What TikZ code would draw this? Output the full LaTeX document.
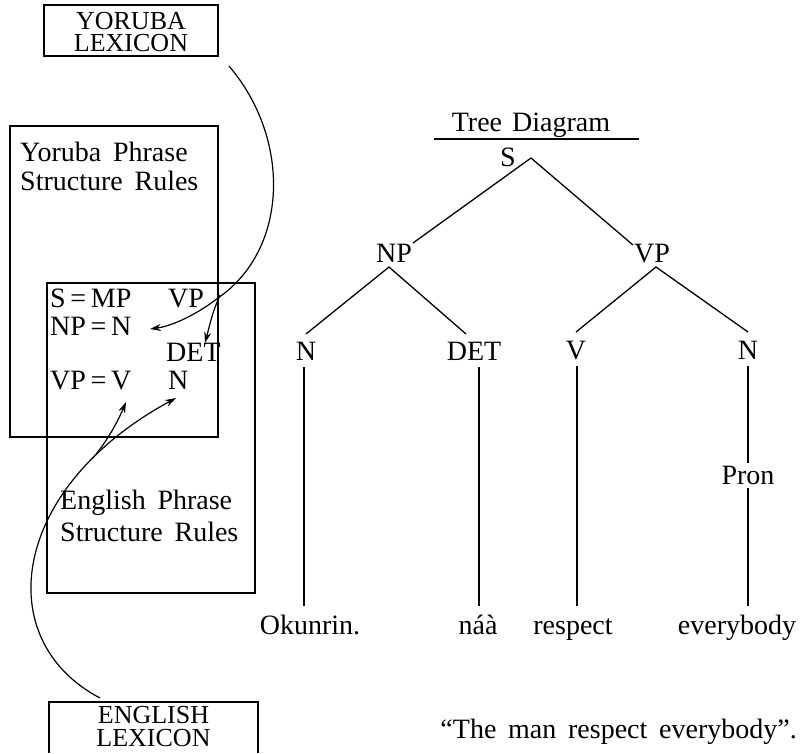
\documentclass[tikz,border=0pt]{standalone}
\usepackage{fontspec}
\setmainfont{Liberation Serif}
\usetikzlibrary{arrows.meta}
\newcommand\wsp{\hspace{0.42em}}
\begin{document}
\begin{tikzpicture}[x=1pt,y=-1pt,
 every node/.style={inner sep=0pt, font=\fontsize{28}{30}\selectfont},
 lbl/.style={anchor=base},
 lblw/.style={anchor=base west},
 edge/.style={line width=1.3pt},
 frame/.style={draw, line width=1.2pt},
 arr/.style={line width=1.2pt, -{Stealth[length=11pt,width=7pt]}}]
\useasboundingbox (0,0) rectangle (801,753);

% lexicon boxes
\node[frame, minimum width=174pt, minimum height=51pt] (ylex) at (131,30.5) {};
\node[lbl, align=center, font=\fontsize{26}{22}\selectfont] (ylexT) at (131,51) {YORUBA\\LEXICON};
\draw[line width=1.2pt] (49,753) |- (258,702) -- (258,753);
\node[lbl, align=center, font=\fontsize{26}{23}\selectfont] (elexT) at (153.5,746) {ENGLISH\\LEXICON};

% phrase structure boxes
\node[frame, minimum width=208pt, minimum height=311pt] (ypsr) at (114,281.5) {};
\node[frame, minimum width=208pt, minimum height=310pt] (epsr) at (151,438) {};
\node[lblw] (yp1) at (20,161) {Yoruba\wsp Phrase};
\node[lblw] (yp2) at (20,190) {Structure\wsp Rules};
\node[lblw] (ep1) at (60,509) {English\wsp Phrase};
\node[lblw] (ep2) at (60,541) {Structure\wsp Rules};

% rules
\node[lblw] (r1a) at (50,307) {S\,=\,MP};
\node[lblw] (r1b) at (168,307) {VP};
\node[lblw] (r2) at (50,335) {NP\,=\,N};
\node[lblw] (r3) at (166,361) {DET};
\node[lblw] (r4a) at (50,389) {VP\,=\,V};
\node[lblw] (r4b) at (168,389) {N};

% arrows from Yoruba lexicon
\coordinate (ystart) at (229,66);
\coordinate (ybranch) at (218,298);
\coordinate (npTip) at (150,329);
\coordinate (detFrom) at (220,295);
\coordinate (detTip) at (205,343);
\draw[arr] (ystart) .. controls (292,140) and (288,250) .. (ybranch)
  .. controls (196,315) and (172,326) .. (npTip);
\draw[arr] (detFrom) .. controls (213,312) .. (detTip);

% arrows from English lexicon
\coordinate (estart) at (100,698);
\coordinate (nTip) at (176,398);
\coordinate (ebranch) at (93,458);
\coordinate (vTip) at (126,402);
\draw[arr] (estart) .. controls (-10,640) and (10,488) .. (nTip);
\draw[arr] (ebranch) .. controls (108,440) and (118,421) .. (vTip);

% tree
\node[lbl] (title) at (531,131) {Tree\hspace{0.36em}Diagram};
\coordinate (ulL) at (434,139);
\coordinate (ulR) at (639,139);
\draw[edge] (ulL) -- (ulR);
\node[lbl] (S) at (508,166) {S};
\node[lbl] (NP) at (394,262) {NP};
\node[lbl] (VP) at (652,262) {VP};
\node[lbl] (N1) at (306,360) {N};
\node[lbl] (DET) at (474,360) {DET};
\node[lbl] (V) at (576,359) {V};
\node[lbl] (N2) at (748,359) {N};
\node[lbl] (Pron) at (748,484) {Pron};
\node[lbl] (L1) at (310,634) {Okunrin.};
\node[lbl] (L2) at (478,634) {náà};
\node[lbl] (L3) at (573,634) {respect};
\node[lbl] (L4) at (737,634) {everybody};
\node[anchor=base east] (gloss) at (797,738) {“The\wsp man\wsp respect\wsp everybody”.};

\coordinate (Sa) at (531,158);
\coordinate (NPt) at (413,243);
\coordinate (VPt) at (633,245);
\coordinate (NPa) at (389,267);
\coordinate (VPa) at (656,267);
\coordinate (N1t) at (306,334);
\coordinate (DETt) at (466,334);
\coordinate (Vt) at (576,332);
\coordinate (N2t) at (748,332);
\draw[edge] (NPt) -- (Sa) -- (VPt);
\draw[edge] (N1t) -- (NPa) -- (DETt);
\draw[edge] (Vt) -- (VPa) -- (N2t);

\coordinate (v1a) at (304,367); \coordinate (v1b) at (304,606);
\coordinate (v2a) at (479,367); \coordinate (v2b) at (479,606);
\coordinate (v3a) at (577,366); \coordinate (v3b) at (577,606);
\coordinate (v4a) at (748,366); \coordinate (v4b) at (748,463);
\coordinate (v5a) at (748,488); \coordinate (v5b) at (748,606);
\draw[edge] (v1a) -- (v1b);
\draw[edge] (v2a) -- (v2b);
\draw[edge] (v3a) -- (v3b);
\draw[edge] (v4a) -- (v4b);
\draw[edge] (v5a) -- (v5b);
\end{tikzpicture}
\end{document}
